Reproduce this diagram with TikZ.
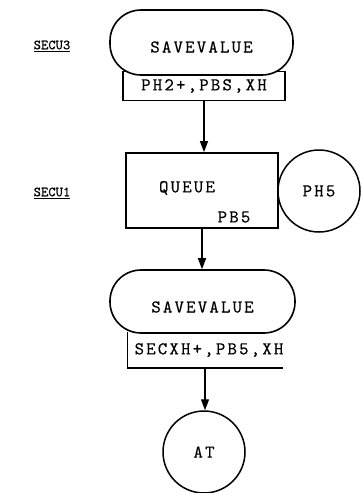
\documentclass[tikz,border=0pt]{standalone}
\usepackage{fontspec}
\newfontfamily\blockfont[Extension=.otf, LetterSpace=12, FakeBold=0.35]{lmmono10-regular}
\newfontfamily\labfont[Extension=.otf, FakeBold=0.6]{lmmono10-regular}
\usetikzlibrary{arrows.meta}
\begin{document}
\begin{tikzpicture}[x=1pt,y=-1pt,
  bf/.style={font=\blockfont\fontsize{18}{18}\selectfont},
  term/.style={draw, line width=1.6pt, rounded corners=31pt, minimum width=183pt, minimum height=65pt, inner sep=0pt, fill=white},
  opbox/.style={draw, line width=1.5pt, minimum width=162pt, minimum height=29pt, inner sep=0pt, bf},
  qbox/.style={draw, line width=1.8pt, minimum width=152pt, minimum height=75pt, inner sep=0pt},
  circ/.style={draw, circle, line width=1.5pt, minimum size=82pt, inner sep=0pt, bf},
  lab/.style={font=\labfont\fontsize{14}{14}\selectfont, inner sep=0pt},
  arr/.style={line width=1.3pt, -{Triangle[length=11pt,width=8pt]}}]
\useasboundingbox (0,0) rectangle (361,493);
% top block
\node[opbox] (b1) at (204,86) {PH2+,PBS,XH};
\node[term] (s1) at (201.5,42.5) {};
\node[bf] (s1t) at (201.5,47) {SAVEVALUE};
\node[lab] (l3) at (52,46) {\underline{SECU3}};
% queue
\node[qbox] (q) at (202,190.5) {};
\node[bf] (qt) at (187,188) {QUEUE};
\node[bf] (qp) at (234,217) {PB5};
\node[circ] (c5) at (319,191) {PH5};
\node[lab] (l1) at (52,193) {\underline{SECU1}};
% second savevalue
\node[bf, minimum width=163pt, minimum height=36pt, inner sep=0pt] (b2) at (209,350) {SECXH+,PB5,XH};
\draw[line width=1.5pt] (b2.north west) -- (b2.south west) -- ([xshift=-8pt]b2.south east);
\node[term, minimum width=185pt, minimum height=63pt] (s2) at (202.5,301.5) {};
\node[bf] (s2t) at (202.5,307) {SAVEVALUE};
% AT
\node[circ, minimum size=82pt] (at) at (204,452) {AT};
% connectors
\draw[arr] (b1.south) -- (b1.south |- q.north);
\draw[arr] (q.south) -- (q.south |- s2.north);
\draw[arr] ([xshift=-4pt]b2.south) -- ([xshift=-4pt]b2.south |- at.north);
\end{tikzpicture}
\end{document}
